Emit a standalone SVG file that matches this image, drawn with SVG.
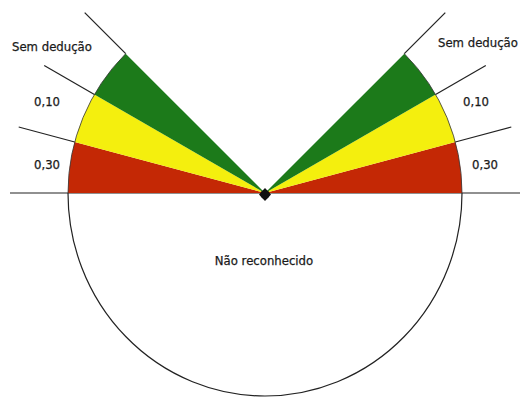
<svg xmlns="http://www.w3.org/2000/svg" width="520" height="398" viewBox="0 0 520 398">
<style>
.g{fill:#1c7a1a}.y{fill:#f4ef0e}.r{fill:#c42805}
.ln{stroke:#222;stroke-width:1.2;fill:none}
.arc{stroke:#333;stroke-width:0.8;fill:none}
text{font-family:"DejaVu Sans","Liberation Sans",sans-serif;font-size:11.7px;fill:#1a1a1a;stroke:#1a1a1a;stroke-width:0.25}
</style>
<rect width="520" height="398" fill="#fff"/>
<g id="base">
<path class="ln" d="M68,193 A197,203 0 0 0 462,193"/>
<line class="ln" x1="10" y1="193" x2="520" y2="193"/>
</g>
<g id="left-sectors">
<path class="r" d="M265,193 L68,193 A197,197 0 0 1 74.7,142 Z"/>
<path class="y" d="M265,193 L74.7,142 A197,197 0 0 1 94.4,94.5 Z"/>
<path class="g" d="M265,193 L94.4,94.5 A197,197 0 0 1 125.7,53.7 Z"/>
<path class="arc" d="M68,193 A197,197 0 0 1 125.7,53.7"/>
</g>
<g id="right-sectors">
<path class="r" d="M265,193 L462,193 A197,197 0 0 0 455.3,142 Z"/>
<path class="y" d="M265,193 L455.3,142 A197,197 0 0 0 435.6,94.5 Z"/>
<path class="g" d="M265,193 L435.6,94.5 A197,197 0 0 0 404.3,53.7 Z"/>
<path class="arc" d="M462,193 A197,197 0 0 0 404.3,53.7"/>
</g>
<g id="connectors">
<line class="ln" x1="74.7" y1="142" x2="18.7" y2="127"/>
<line class="ln" x1="94.4" y1="94.5" x2="44.2" y2="65.5"/>
<line class="ln" x1="125.7" y1="53.7" x2="84.7" y2="12.7"/>
<line class="ln" x1="455.3" y1="142" x2="511.3" y2="127"/>
<line class="ln" x1="435.6" y1="94.5" x2="485.8" y2="65.5"/>
<line class="ln" x1="404.3" y1="53.7" x2="445.3" y2="12.7"/>
</g>
<g id="center">
<path d="M265,188 L271,194.5 L265,201 L259,194.5 Z" fill="#111"/>
<circle cx="265" cy="194.5" r="4.5" fill="#111"/>
</g>
<g id="labels">
<text x="12" y="51">Sem dedução</text>
<text x="34" y="106">0,10</text>
<text x="34" y="169">0,30</text>
<text x="438" y="47">Sem dedução</text>
<text x="463" y="106">0,10</text>
<text x="472" y="169">0,30</text>
<text x="264" y="265" text-anchor="middle">Não reconhecido</text>
</g>
</svg>
